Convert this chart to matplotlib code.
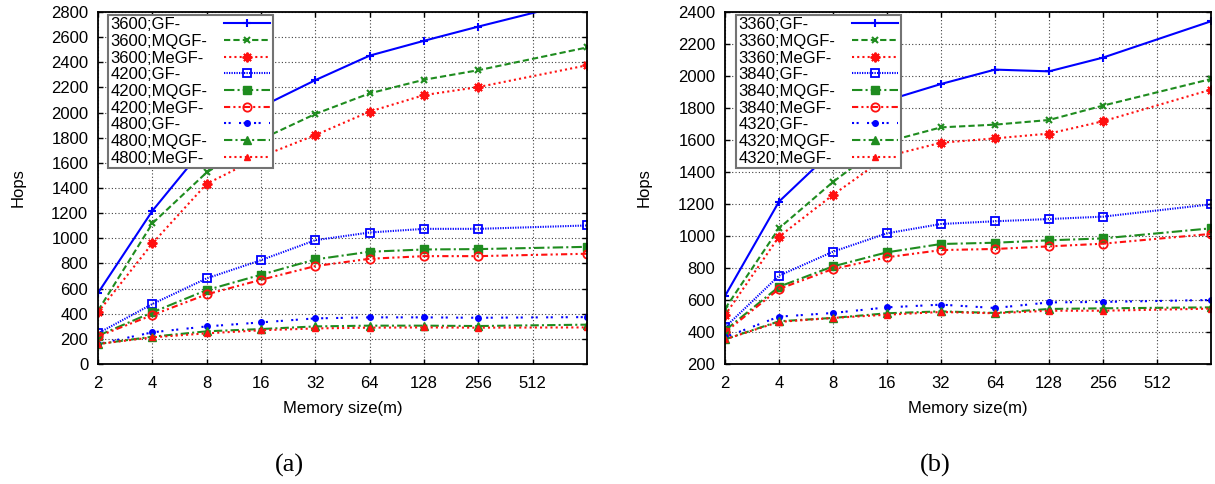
import numpy as np
import matplotlib
matplotlib.use("Agg")
import matplotlib.pyplot as plt

plt.rcParams['font.family'] = ['Liberation Sans', 'DejaVu Sans']

# memory size (x) -- last point sits at the right edge (1024)
mem = [2, 4, 8, 16, 32, 64, 128, 256, 1024]
xticks = [2, 4, 8, 16, 32, 64, 128, 256, 512]

# (a)
a_3600_gf = [565, 1218, 1746, 2045, 2258, 2453, 2571, 2684, 2900]
a_3600_mqgf = [424, 1118, 1524, 1787, 1989, 2153, 2261, 2337, 2518]
a_3600_megf = [411, 959, 1433, 1650, 1821, 2008, 2139, 2203, 2376]
a_4200_gf = [244, 477, 681, 826, 985, 1046, 1075, 1075, 1102]
a_4200_mqgf = [225, 411, 588, 710, 832, 893, 911, 914, 932]
a_4200_megf = [220, 389, 554, 670, 779, 837, 858, 858, 877]
a_4800_gf = [159, 252, 299, 331, 363, 371, 371, 368, 373]
a_4800_mqgf = [159, 217, 260, 278, 299, 305, 305, 302, 313]
a_4800_megf = [159, 212, 244, 268, 283, 289, 291, 289, 291]
a_groups = ["3600", "4200", "4800"]

# (b)
b_3360_gf = [625, 1215, 1535, 1847, 1950, 2040, 2029, 2115, 2342]
b_3360_mqgf = [545, 1048, 1338, 1589, 1679, 1696, 1725, 1815, 1981]
b_3360_megf = [505, 996, 1257, 1498, 1583, 1610, 1640, 1717, 1915]
b_3840_gf = [429, 752, 902, 1017, 1075, 1092, 1106, 1121, 1198]
b_3840_mqgf = [410, 683, 810, 898, 950, 958, 973, 985, 1048]
b_3840_megf = [398, 669, 794, 867, 912, 919, 935, 952, 1013]
b_4320_gf = [367, 496, 519, 554, 571, 550, 585, 588, 600]
b_4320_mqgf = [354, 467, 488, 517, 529, 519, 544, 548, 554]
b_4320_megf = [354, 463, 488, 508, 525, 517, 533, 533, 546]
b_groups = ["3360", "3840", "4320"]

methods = ["GF-", "MQGF-", "MeGF-"]

blue = "#0000ff"
green = "#1f8c1f"
red = "#ff1010"
# gnuplot-ish styles, one per curve (group, method)
styles = [
    dict(color=blue, ls="-", marker="+", ms=6, mew=1.5),
    dict(color=green, ls=(0, (3, 1.5)), marker="x", ms=5, mew=1.5),
    dict(color=red, ls=(0, (1, 1.5)), marker=(8, 2, 0), ms=7, mew=1.4),
    dict(color=blue, ls=(0, (0.6, 0.6)), marker="s", ms=5.5, mfc="none", mew=1.3),
    dict(color=green, ls=(0, (5, 1.5, 1, 1.5)), marker="s", ms=5.5),
    dict(color=red, ls=(0, (3, 1.5, 1, 1.5, 1, 1.5)), marker="o", ms=6, mfc="none", mew=1.3),
    dict(color=blue, ls=(0, (1, 1.2, 1, 4)), marker="o", ms=4),
    dict(color=green, ls=(0, (4, 1.5, 1, 1.5)), marker="^", ms=5.5),
    dict(color=red, ls=(0, (1, 1.5)), marker="^", ms=5),
]


def panel(ax, series, groups, ylim, ytick_step, leg_x, ylab_x):
    labels = [g + ";" + m for g in groups for m in methods]
    for y, lab, st in zip(series, labels, styles):
        ax.plot(mem, y, lw=1.5, label=lab, **st)
    ax.set_xscale("log", base=2)
    ax.set_xlim(2, 1024)
    ax.set_ylim(*ylim)
    ax.set_xticks(xticks)
    ax.set_xticklabels([str(t) for t in xticks])
    ax.xaxis.set_minor_locator(matplotlib.ticker.NullLocator())
    ax.set_yticks(np.arange(ylim[0], ylim[1] + 1, ytick_step))
    ax.tick_params(direction="in", top=True, right=True, length=3.6, width=1,
                   labelsize=12)
    ax.tick_params(axis="x", pad=9)
    ax.tick_params(axis="y", pad=7)
    ax.grid(True, color="0.25", ls=(0, (1, 2)), lw=0.8)
    for s in ax.spines.values():
        s.set_linewidth(1.3)
    ax.set_xlabel("Memory size(m)", fontsize=12)
    ax.set_ylabel("Hops", fontsize=12)
    ax.xaxis.set_label_coords(0.5, -0.105)
    ax.yaxis.set_label_coords(ylab_x, 0.5)
    leg = ax.legend(loc="upper left", bbox_to_anchor=(leg_x, 0.992), borderaxespad=0,
                    fontsize=12, markerfirst=False, handlelength=2.75,
                    handletextpad=1.0, labelspacing=0.1, borderpad=0.15,
                    fancybox=False, framealpha=1, edgecolor="0.45")
    leg.get_frame().set_linewidth(1.5)
    return leg


fig = plt.figure(figsize=(12.15, 4.84), dpi=100)
ax1 = fig.add_axes([98 / 1215, 1 - 364 / 484, 489 / 1215, 352 / 484])
ax2 = fig.add_axes([725 / 1215, 1 - 364 / 484, 486 / 1215, 352 / 484])

leg1 = panel(ax1, [a_3600_gf, a_3600_mqgf, a_3600_megf, a_4200_gf, a_4200_mqgf,
                   a_4200_megf, a_4800_gf, a_4800_mqgf, a_4800_megf],
             a_groups, (0, 2800), 200, 0.021, -0.149)
leg2 = panel(ax2, [b_3360_gf, b_3360_mqgf, b_3360_megf, b_3840_gf, b_3840_mqgf,
                   b_3840_megf, b_4320_gf, b_4320_mqgf, b_4320_megf],
             b_groups, (200, 2400), 200, 0.023, -0.150)

# left-align legend text with the line samples on the right (gnuplot key look)
renderer = fig.canvas.get_renderer()
dpicor = renderer.points_to_pixels(1.0)
for leg in (leg1, leg2):
    items = []
    for col in leg._legend_handle_box.get_children():
        items += col.get_children()
    widths = [it.get_children()[0].get_bbox(renderer).width for it in items]
    for it, w in zip(items, widths):
        it.sep = it.sep + (max(widths) - w) / dpicor

fig.text(289 / 1215, 1 - 465 / 484, "(a)", family="Liberation Serif", fontsize=19,
         ha="center", va="center")
fig.text(935 / 1215, 1 - 465 / 484, "(b)", family="Liberation Serif", fontsize=19,
         ha="center", va="center")

fig.savefig("out.png", dpi=100)
